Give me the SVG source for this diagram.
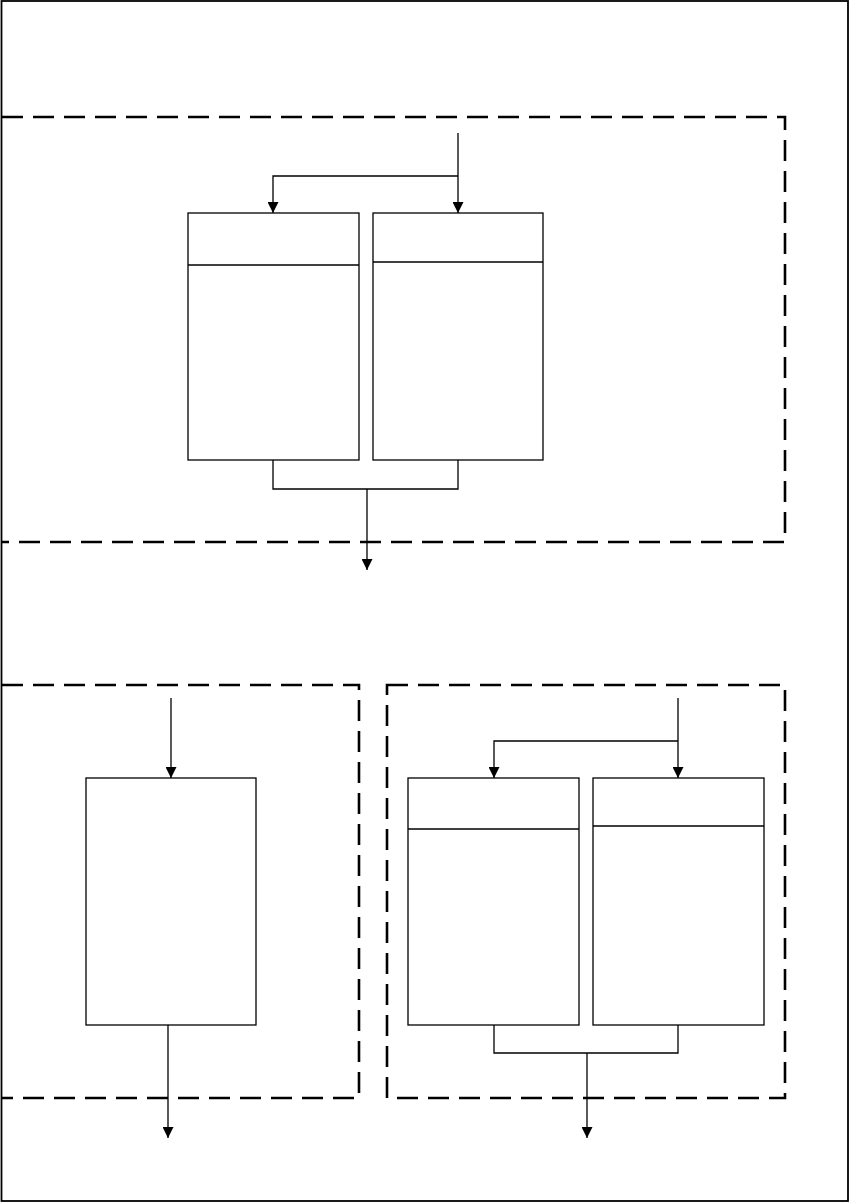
<svg xmlns="http://www.w3.org/2000/svg" width="851" height="1202" viewBox="0 0 851 1202">
<defs>
<marker id="arr" markerWidth="11" markerHeight="11" refX="10" refY="5" orient="auto" markerUnits="userSpaceOnUse" viewBox="0 0 10 10">
<path d="M0,0 L10,5 L0,10 Z" fill="#000"/>
</marker>
<style>
.box{fill:#fff;stroke:#000;stroke-width:1.3}
.dash{fill:none;stroke:#000;stroke-width:2.6;stroke-dasharray:21 10}
.ln{fill:none;stroke:#000;stroke-width:1.3}
.ar{fill:none;stroke:#000;stroke-width:1.3;marker-end:url(#arr)}
</style>
</defs>
<rect width="851" height="1202" fill="#fff"/>
<rect id="frame" x="1.5" y="1" width="846.5" height="1200" fill="none" stroke="#000" stroke-width="1.8"/>
<g id="group-top">
<path class="dash" d="M2,117 H785 V542 H2"/>
</g>
<g id="group-bottom-left">
<path class="dash" d="M2,685 H359 V1098 H2"/>
</g>
<g id="group-bottom-right">
<rect class="dash" x="387" y="685" width="398" height="413"/>
</g>
<g id="node-t1"><rect class="box" x="188" y="213" width="171" height="247"/><line class="ln" x1="188" y1="265" x2="359" y2="265"/></g>
<g id="node-t2"><rect class="box" x="373" y="213" width="170" height="247"/><line class="ln" x1="373" y1="262" x2="543" y2="262"/></g>
<g id="node-bl"><rect class="box" x="86" y="778" width="170" height="247"/></g>
<g id="node-b1"><rect class="box" x="408" y="778" width="171" height="247"/><line class="ln" x1="408" y1="829" x2="579" y2="829"/></g>
<g id="node-b2"><rect class="box" x="593" y="778" width="171" height="247"/><line class="ln" x1="593" y1="826" x2="764" y2="826"/></g>
<g id="connectors">
<path class="ar" d="M458,133 V213"/>
<path class="ar" d="M458,176 H273 V213"/>
<path class="ln" d="M273,460 V489 H458 V460"/>
<path class="ar" d="M367,489 V570"/>
<path class="ar" d="M171,698 V778"/>
<path class="ar" d="M168,1025 V1138"/>
<path class="ar" d="M678,698 V778"/>
<path class="ar" d="M678,741 H494 V778"/>
<path class="ln" d="M494,1025 V1053 H678 V1025"/>
<path class="ar" d="M587,1053 V1138"/>
</g>
</svg>
